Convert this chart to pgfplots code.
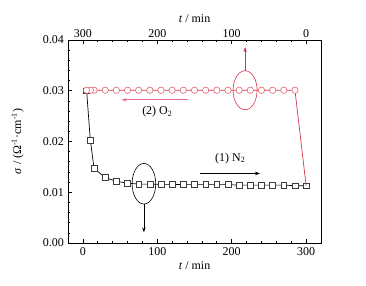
\documentclass[border=0pt]{standalone}
\usepackage{pgfplots}
\pgfplotsset{compat=1.18}
\usepackage{fontspec}
\setmainfont{Liberation Serif}
\usetikzlibrary{arrows.meta}
\definecolor{myred}{RGB}{215,50,75}
\definecolor{circred}{RGB}{228,95,105}
\definecolor{mypink}{RGB}{228,105,155}
\definecolor{sqgray}{RGB}{60,60,60}
\begin{document}
\fontsize{12}{14}\selectfont
\begin{tikzpicture}
\pgfplotsset{every axis/.append style={
  scale only axis, width=253bp, height=203bp,
  xmin=-20, xmax=320, ymin=0, ymax=0.04,
  tick align=inside, major tick length=4bp, minor tick length=2.2bp,
  /pgf/number format/assume math mode=true,
  tick label style={font=\fontsize{12}{14}\selectfont},
  label style={font=\fontsize{12}{14}\selectfont},
  axis line style={line width=0.9pt},
  every tick/.style={line width=0.7pt, black},
  xtick={0,100,200,300}, minor x tick num=4,
}}
\begin{axis}[name=main,
  xtick pos=bottom, ytick pos=left,
  ytick={0,0.01,0.02,0.03,0.04}, minor y tick num=4,
  scaled y ticks=false,
  yticklabel style={/pgf/number format/.cd, fixed, fixed zerofill, precision=2},
  xlabel={\textit{t} / min},
  xlabel style={yshift=2bp},
  ylabel={\textit{σ} / (Ω\textsuperscript{-1}·cm\textsuperscript{-1})},
  ylabel style={yshift=11bp},
  clip=false,
]
\addplot[black, line width=0.7pt, mark=square*, mark size=2.9bp,
  mark options={draw=sqgray, fill=white, line width=0.5pt}] coordinates {
(5,0.0300) (10,0.0203) (15,0.0147) (30,0.0129) (45,0.01215) (60,0.0118)
(75,0.0116) (90,0.0116) (105,0.01155) (120,0.01155) (135,0.0115) (150,0.0115)
(165,0.0115) (180,0.0115) (195,0.0115) (210,0.0114) (225,0.0114) (240,0.0114)
(255,0.0114) (270,0.0114) (285,0.0113) (300,0.0113)
};
\draw[black, line width=0.6pt] (axis cs:82,0.01168) ellipse [x radius=11.8bp, y radius=20.3bp];
\draw[black, line width=0.6pt, -{Stealth[length=5bp,width=3.5bp]}] (axis cs:82,0.00768) -- (axis cs:82,0.0021);
\draw[black, line width=0.6pt, -{Stealth[length=5bp,width=3.5bp]}] (axis cs:157,0.0137) -- (axis cs:238,0.0137);
\node at (axis cs:198,0.0167) {(1) N\textsubscript{2}};
\end{axis}
\begin{axis}[at={(main.south west)}, anchor=south west,
  x dir=reverse, axis x line*=top, axis y line=none,
  xtick pos=top,
  xlabel={\textit{t} / min},
  xlabel style={yshift=-1bp},
  xticklabel style={yshift=-2bp},
  clip=false,
]
\addplot[myred, line width=0.7pt, forget plot] coordinates {
(0,0.0113) (15,0.0301) (30,0.0301) (45,0.0301) (60,0.0301) (75,0.0301)
(90,0.0301) (105,0.0301) (120,0.0301) (135,0.0301) (150,0.0301) (165,0.0301)
(180,0.0301) (195,0.0301) (210,0.0301) (225,0.0301) (240,0.0301) (255,0.0301)
(270,0.0301) (285,0.0301) (290,0.0301) (295,0.0301)
};
\addplot[only marks, mark=*, mark size=3.2bp,
  mark options={draw=circred, fill=white, line width=0.6pt}] coordinates {
(15,0.0301) (30,0.0301) (45,0.0301) (60,0.0301) (75,0.0301)
(90,0.0301) (105,0.0301) (120,0.0301) (135,0.0301) (150,0.0301) (165,0.0301)
(180,0.0301) (195,0.0301) (210,0.0301) (225,0.0301) (240,0.0301) (255,0.0301)
(270,0.0301) (285,0.0301) (290,0.0301) (295,0.0301)
};
\draw[myred, line width=0.6pt] (axis cs:82,0.0301) ellipse [x radius=12bp, y radius=19.5bp];
\draw[myred, line width=0.6pt, -{Stealth[length=5bp,width=3.5bp]}] (axis cs:82,0.0339) -- (axis cs:82,0.0386);
\draw[mypink, line width=0.9pt, -{Stealth[length=5bp,width=3.5bp]}] (axis cs:159,0.0282) -- (axis cs:248,0.0282);
\node at (axis cs:200,0.0258) {(2) O\textsubscript{2}};
\end{axis}
\pgfresetboundingbox
\path ([shift={(-68bp,-43bp)}]main.south west) rectangle ([shift={(45bp,40bp)}]main.north east);
\end{tikzpicture}
\end{document}
